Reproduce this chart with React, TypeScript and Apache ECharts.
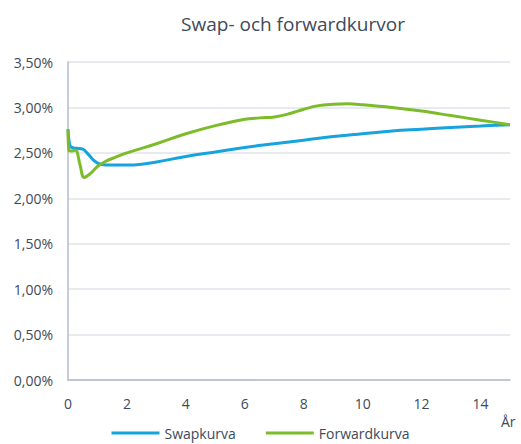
import React, { useEffect, useRef } from "react";
import * as echarts from "echarts";

const title = "Swap- och forwardkurvor";
const xAxisName = "År";
const swapName = "Swapkurva";
const forwardName = "Forwardkurva";

const swapX = [0, 0.05, 0.12, 0.3, 0.5, 0.7, 0.9, 1.1, 1.5, 2, 2.5, 3, 4, 5, 6, 7, 8, 9, 10, 11, 12, 13, 14, 15];
const swapY = [2.76, 2.6, 2.56, 2.55, 2.54, 2.48, 2.41, 2.375, 2.365, 2.365, 2.375, 2.4, 2.46, 2.51, 2.56, 2.6, 2.64, 2.68, 2.71, 2.74, 2.76, 2.78, 2.795, 2.81];

const fwdX = [0, 0.03, 0.1, 0.25, 0.4, 0.55, 0.75, 1.0, 1.3, 1.6, 2, 3, 4, 5, 6, 6.5, 7, 7.5, 8, 8.5, 9, 9.5, 10, 11, 12, 13, 14, 15];
const fwdY = [2.76, 2.53, 2.52, 2.53, 2.38, 2.23, 2.27, 2.35, 2.41, 2.45, 2.5, 2.6, 2.71, 2.8, 2.87, 2.885, 2.895, 2.93, 2.98, 3.02, 3.035, 3.04, 3.03, 3.0, 2.96, 2.91, 2.86, 2.81];

const yTicks = [0, 0.5, 1, 1.5, 2, 2.5, 3, 3.5];
const xTicks = [0, 2, 4, 6, 8, 10, 12, 14];

export default function App() {
  const ref = useRef<HTMLDivElement>(null);
  useEffect(() => {
    if (!ref.current) return;
    const chart = echarts.init(ref.current, null, { renderer: "svg" });
    const font = "'Open Sans', sans-serif";
    chart.setOption({
      animation: false,
      title: {
        text: title,
        left: 288,
        textAlign: "center",
        top: 9,
        textStyle: { fontFamily: font, fontSize: 19, fontWeight: "normal", color: "#404a5a" },
      },
      grid: { left: 68, right: 11, top: 62, bottom: 64 },
      legend: {
        top: 421,
        left: "center",
        icon: "rect",
        itemWidth: 48,
        itemHeight: 3,
        itemGap: 30,
        textStyle: { fontFamily: font, fontSize: 14, color: "#404a5a" },
        data: [swapName, forwardName],
      },
      xAxis: {
        type: "value",
        min: 0,
        max: 15,
        interval: 2,
        axisLine: { lineStyle: { color: "#b4bccb", width: 1.5 } },
        axisTick: { show: false },
        splitLine: { show: false },
        axisLabel: {
          showMaxLabel: false,
          margin: 16,
          fontFamily: font,
          fontSize: 14,
          color: "#404a5a",
          formatter: (v: number) => (xTicks.includes(v) ? String(v) : ""),
        },
      },
      yAxis: {
        type: "value",
        min: 0,
        max: 3.5,
        interval: 0.5,
        axisLine: { show: true, lineStyle: { color: "#b4bccb", width: 1.5 } },
        axisTick: { show: false },
        splitLine: { lineStyle: { color: "#dfe3ea", width: 1.5 } },
        axisLabel: {
          margin: 15,
          fontFamily: font,
          fontSize: 14,
          color: "#404a5a",
          formatter: (v: number) => (yTicks.includes(v) ? v.toFixed(2).replace(".", ",") + "%" : ""),
        },
      },
      graphic: [
        {
          type: "text",
          x: 501,
          y: 414,
          style: { text: xAxisName, fontFamily: font, fontSize: 14, fill: "#404a5a" },
        },
      ],
      series: [
        {
          name: swapName,
          type: "line",
          data: swapX.map((x, i) => [x, swapY[i]]),
          smooth: 0.4,
          showSymbol: false,
          lineStyle: { color: "#17a3dd", width: 3 },
          itemStyle: { color: "#17a3dd" },
        },
        {
          name: forwardName,
          type: "line",
          data: fwdX.map((x, i) => [x, fwdY[i]]),
          smooth: 0.4,
          showSymbol: false,
          lineStyle: { color: "#7cbb2a", width: 3 },
          itemStyle: { color: "#7cbb2a" },
        },
      ],
    });
    return () => chart.dispose();
  }, []);
  return <div ref={ref} style={{ position: "absolute", left: 0, top: 0, width: 521, height: 444 }} />;
}
